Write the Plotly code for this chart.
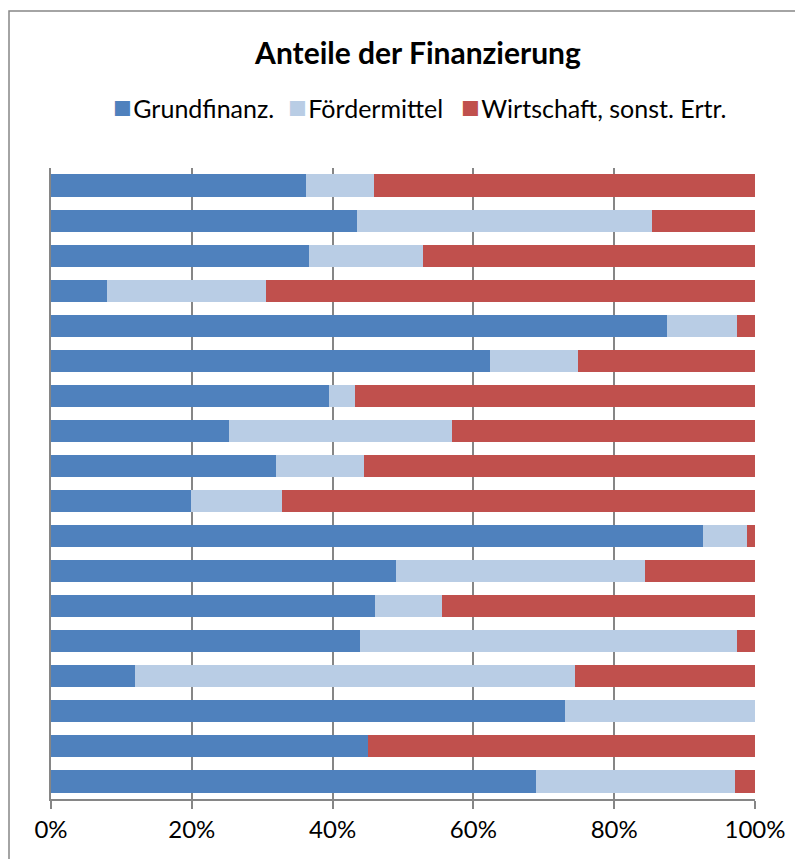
import plotly.graph_objects as go

# rows listed top to bottom, values in percent
rows = [str(i) for i in range(1, 19)]
grund = [36.2, 43.5, 36.6, 8.0, 87.5, 62.4, 39.5, 25.3, 32.0, 19.9, 92.6, 49.0, 46.0, 43.9, 11.9, 73.0, 45.0, 68.9]
foerder = [9.7, 41.9, 16.2, 22.5, 9.9, 12.5, 3.7, 31.7, 12.5, 12.9, 6.3, 35.4, 9.5, 53.5, 62.5, 27.0, 0.0, 28.3]
wirtschaft = [round(100 - g - f, 1) for g, f in zip(grund, foerder)]

series = [
    ('Grundfinanz.', grund, '#4F81BD'),
    ('Fördermittel', foerder, '#B9CDE5'),
    ('Wirtschaft, sonst. Ertr.', wirtschaft, '#C0504D'),
]
tick_vals = [0, 20, 40, 60, 80, 100]
tick_text = ['0%', '20%', '40%', '60%', '80%', '100%']

font = 'Lato, Carlito, Calibri, sans-serif'
grey = '#868686'

# the page body adds 8px, so the margins are set 8px smaller
fig = go.Figure()
for name, vals, color in series:
    fig.add_trace(go.Bar(y=rows, x=vals, name=name, orientation='h',
                         marker=dict(color=color, line=dict(width=0))))

# legend drawn as text, Excel-style compact squares
legend_x = [(103 - 43) / 704, (278 - 43) / 704, (451 - 43) / 704]
annotations = []
for (name, vals, color), lx in zip(series, legend_x):
    annotations.append(dict(
        text='<span style="color:%s;font-size:31px">■</span>\u200a%s' % (color, name),
        x=lx, xref='paper', xanchor='left', y=1.098, yref='paper', yanchor='middle',
        showarrow=False, font=dict(size=25, family=font, color='black')))

fig.update_layout(
    width=803, height=859,
    barmode='stack', bargap=0.37,
    paper_bgcolor='white', plot_bgcolor='white',
    margin=dict(l=43, r=56, t=160, b=68),
    font=dict(family=font, color='black'),
    showlegend=False,
    title=dict(text='<b>Anteile der Finanzierung</b>', x=(410 - 43) / 704, xref='paper',
               xanchor='center', y=1 - 45 / 859, yanchor='middle',
               font=dict(size=30, family=font)),
    annotations=annotations,
    xaxis=dict(range=[0, 100], tickvals=tick_vals, ticktext=tick_text,
               showgrid=True, gridcolor=grey, gridwidth=1.5,
               showline=True, linecolor=grey, linewidth=1.5,
               ticks='outside', ticklen=8, tickcolor=grey, tickwidth=1.5,
               tickfont=dict(size=24, family=font), zeroline=False),
    yaxis=dict(autorange='reversed', showticklabels=False, showgrid=False,
               showline=True, linecolor=grey, linewidth=1.5, ticks='',
               zeroline=False),
    shapes=[dict(type='rect', xref='paper', yref='paper',
                 x0=(1 - 43) / 704, x1=1.2, y0=-0.3, y1=1.2488,
                 line=dict(color=grey, width=1.5), layer='below')],
)

fig.write_html('out.html')
